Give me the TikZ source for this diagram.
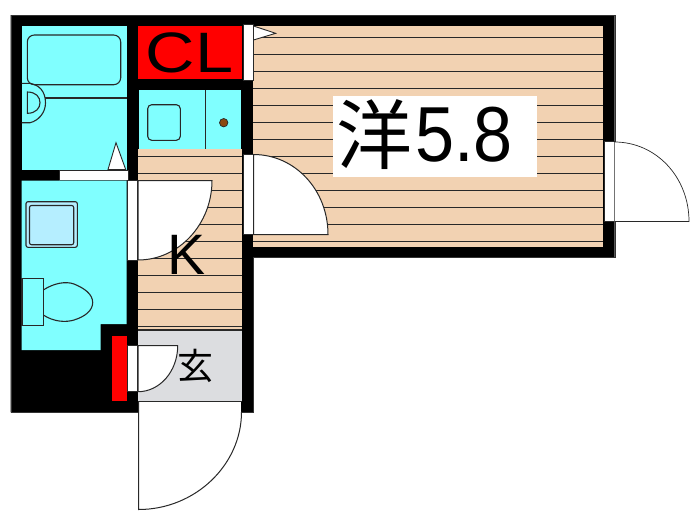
\documentclass[tikz,border=0pt]{standalone}
\usepackage{fontspec}
\setmainfont{Liberation Sans}
\newfontfamily\jpfont{Noto Sans CJK JP}
\definecolor{floorc}{HTML}{F2D2B2}
\definecolor{cyanc}{HTML}{80FFFF}
\definecolor{grayc}{HTML}{DCDDE0}
\definecolor{ink}{HTML}{282828}
\definecolor{basin}{HTML}{B5EEFF}
\definecolor{dotc}{HTML}{8B4A12}
\tikzset{
  wall/.style={fill=black,draw=black!80,line width=.3pt},
  room/.style={line width=1.1pt,draw=ink},
  fixture/.style={room,fill=cyanc},
  opening/.style={fill=white,draw=ink,line width=.6pt},
  leaf/.style={fill=white,draw=ink,line width=1pt},
  plank/.style={draw=ink,line width=1pt},
  lbl/.style={inner sep=0pt,text=black}
}
\begin{document}
\begin{tikzpicture}[x=1pt,y=-1pt]
\useasboundingbox (0,0) rectangle (700,525);
% walls
\draw[wall] (10.7,15) -- (614.7,15) -- (614.7,257.5) -- (253.3,257.5) -- (253.3,412.3) -- (10.7,412.3) -- cycle;
% floors
\fill[floorc] (253.3,26) rectangle (603.3,246.7);
\fill[floorc] (137.7,149) rectangle (242.3,330);
\foreach \y in {37.7,54.7,71.7,88.7,105.7,122.7,139.7,156.7,173.7,190.7,207.7,224.7,241.7}
  \draw[plank] (253.3,\y) -- (603.3,\y);
\foreach \y in {156.7,173.7,190.7,207.7,224.7,241.7,258.7,275.7,292.7,309.7,326.7}
  \draw[plank] (137.7,\y) -- (242.3,\y);
% closet
\fill[red] (137.7,26) rectangle (242.3,79.3);
\fill[red] (112,335.7) rectangle (126.7,401.3);
% kitchen
\fill[cyanc] (139.3,90.3) rectangle (241,149);
\draw[room] (205.7,90.3) -- (205.7,149);
\draw[room,rounded corners=4pt] (147.7,104.7) rectangle (180.3,140.3);
\fill[dotc,draw=ink,line width=.7pt] (223.7,122.7) circle[radius=4.2];
% bath
\fill[cyanc] (21.7,26) rectangle (126.7,169.5);
\draw[room,rounded corners=7pt] (27.3,35) rectangle (120.7,84.7);
\draw[room] (21.7,83.3) -- (30,83.3) .. controls (39,85) and (45.5,91) .. (45.5,103) .. controls (45.5,113) and (38,121) .. (30,122.7) -- (21.7,122.7);
\draw[room] (45,98) -- (126.7,98);
\draw[room] (27.3,92) .. controls (36,92) and (40,97) .. (40,102.7) .. controls (40,108) and (36,113.3) .. (27.3,113.3) -- cycle;
\draw[opening,line width=.9pt] (116,142.7) -- (125.7,169.5) -- (108,169.5) -- cycle;
\draw[opening] (59,170) rectangle (128,180);
% toilet room
\fill[cyanc] (21.7,180.5) -- (126.7,180.5) -- (126.7,324) -- (100.7,324) -- (100.7,350) -- (21.7,350) -- cycle;
\draw[room,fill=basin,rounded corners=2pt] (26,201.7) rectangle (77.3,247.3);
\draw[room,rounded corners=2pt] (29.5,205.5) rectangle (73.7,244.7);
\draw[room] (22,278.3) rectangle (43.3,325.3);
\draw[room] (43.3,290) .. controls (54,283) and (66,281) .. (74,284) .. controls (84,288) and (92.7,294) .. (92.7,302.5) .. controls (92.7,311) and (84,317) .. (74,320) .. controls (66,322.5) and (54,322) .. (43.3,315);
% entry
\fill[grayc] (137.7,330) rectangle (242.3,401.3);
\draw[room] (137.7,330) -- (242.3,330);
\draw[room] (137.7,401.5) -- (242.3,401.5);
% openings and door leaves
\draw[opening] (243.3,24) rectangle (253.3,80.7);
\draw[opening,line width=.9pt] (253.5,26) -- (275.7,33.3) -- (253.5,40) -- cycle;
\draw[opening] (243.3,154) rectangle (253.3,234.5);
\draw[leaf] (253.5,154.5) .. controls (295,154.5) and (328,190) .. (328,234.5) -- (253.5,234.5) -- cycle;
\draw[opening] (127.7,180.5) rectangle (137.7,260);
\draw[leaf] (212,180.5) .. controls (212,224) and (179,260) .. (138,260) -- (138,180.5) -- cycle;
\draw[opening] (127.7,345.7) rectangle (137.7,391.7);
\draw[leaf] (177.7,345.7) .. controls (177.7,371) and (160,391.7) .. (138,391.7) -- (138,345.7) -- cycle;
\fill[white] (138.5,402) rectangle (241.3,412.5);
\draw[leaf] (241.5,412) .. controls (241.5,465) and (195,509.5) .. (138.7,509.5) -- (138.7,402);
\draw[opening] (604.7,141.5) rectangle (614.3,221.5);
\draw[leaf,line width=.7pt] (614.5,142) .. controls (656,142) and (689,177) .. (689,221.5) -- (614.5,221.5);
% label plate
\fill[white] (332.7,95.7) rectangle (536.7,177.3);
\node[lbl] (yo) at (374,135) {\jpfont\fontsize{76}{76}\selectfont 洋};
\node[lbl,xscale=.9] (area) at (464,135) {\fontsize{78}{78}\selectfont 5.8};
\node[lbl,xscale=1.2] (cl) at (189.5,53) {\fontsize{57}{57}\selectfont CL};
\node[lbl] (k) at (186.5,255) {\fontsize{57}{57}\selectfont K};
\node[lbl] (gen) at (195,366) {\jpfont\fontsize{36}{36}\selectfont 玄};
\end{tikzpicture}
\end{document}
